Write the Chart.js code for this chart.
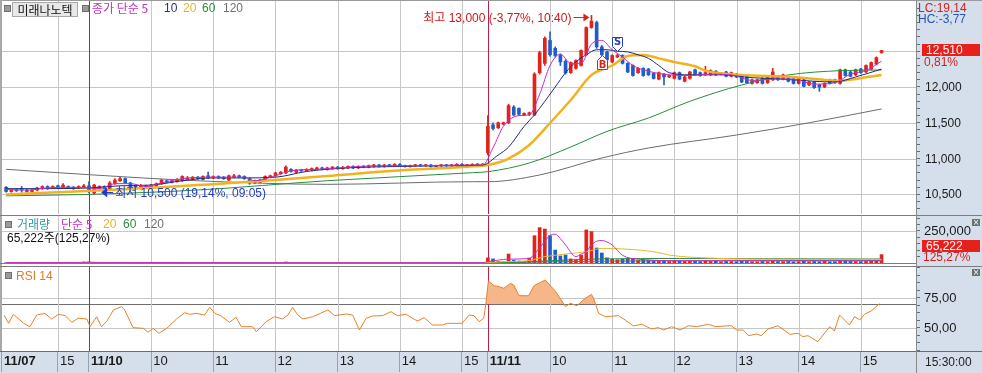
<!DOCTYPE html>
<html><head><meta charset="utf-8">
<script src="https://cdn.jsdelivr.net/npm/chart.js@4.4.0/dist/chart.umd.min.js"></script>
<style>
html,body{margin:0;padding:0;background:#fff;}
#wrap{position:relative;width:982px;height:373px;overflow:hidden;background:#fff;}
canvas{position:absolute;left:0;}
.t{position:absolute;white-space:nowrap;font-size:12px;line-height:14px;font-family:"Liberation Sans Narrow","Liberation Sans","Noto Sans CJK KR",sans-serif;}
.k{font-family:"Noto Sans CJK KR",sans-serif;}
.ln{position:absolute;}
.ic{position:absolute;width:5px;height:5px;background:#9a9a9a;border:1px solid #707070;}
.xb{position:absolute;width:8px;height:7px;background:#6f6f6f;color:#fff;font:8px/7px "DejaVu Sans",sans-serif;text-align:center;}
</style></head><body>
<div id="wrap">
  <div class="ln" style="left:916px;top:0;width:66px;height:373px;background:#d5dfeb"></div>
  <div class="ln" style="left:0;top:352px;width:982px;height:21px;background:#d5dfeb"></div>
  <canvas id="cP" width="982" height="213" style="top:1px"></canvas>
  <canvas id="cV" width="982" height="47" style="top:216px"></canvas>
  <canvas id="cR" width="982" height="106" style="top:267px"></canvas>
  <div class="ln" style="left:0;top:0;width:982px;height:1px;background:#9a9a9a"></div>
  <div class="ln" style="left:0;top:0;width:2px;height:352px;background:#a8a8a8"></div>
  <div class="ln" style="left:0;top:215px;width:982px;height:1px;background:#7c7c7c"></div>
  <div class="ln" style="left:0;top:263px;width:916px;height:1px;background:#7c7c7c"></div>
  <div class="ln" style="left:0;top:266px;width:982px;height:1px;background:#7c7c7c"></div>
  <div class="ln" style="left:0;top:351px;width:982px;height:1px;background:#6c6c6c"></div>
  <div class="ln" style="left:916px;top:0;width:1px;height:373px;background:#8a8a8a"></div>
  <div class="ic" style="left:4px;top:5px"></div>
  <div class="t k" style="left:12px;top:2px;width:64px;height:13px;background:#e8e8e8;border:1px solid #a8a8a8;line-height:13px;color:#111;text-align:center">미래나노텍</div>
  <div class="ic" style="left:82px;top:5px"></div>
  <div class="t k" style="left:92px;top:1px;color:#c42fc4">종가 단순 5</div>
  <div class="t" style="left:164px;top:1px;color:#27307f">10</div>
  <div class="t" style="left:183px;top:1px;color:#e6b22a">20</div>
  <div class="t" style="left:202px;top:1px;color:#2f8c3f">60</div>
  <div class="t" style="left:223px;top:1px;color:#707070">120</div>
  <div class="ic" style="left:5px;top:221px"></div>
  <div class="t k" style="left:17px;top:217px;color:#2f9a9a">거래량</div>
  <div class="t k" style="left:61px;top:217px;color:#c42fc4">단순 5</div>
  <div class="t" style="left:103px;top:217px;color:#e6b22a">20</div>
  <div class="t" style="left:123px;top:217px;color:#2f8c3f">60</div>
  <div class="t" style="left:144px;top:217px;color:#707070">120</div>
  <div class="t" style="left:7px;top:230px;color:#111">65,222<span class="k">주</span>(125,27%)</div>
  <div class="ic" style="left:5px;top:272px"></div>
  <div class="t" style="left:16px;top:269px;color:#e07b2a">RSI 14</div>
  <div class="t" style="left:918px;top:1px;color:#d42020">LC:19,14</div>
  <div class="t" style="left:918px;top:12px;color:#2a55b5">HC:-3,77</div>
  <div id="pbox" class="t" style="left:922px;width:58px;height:12px;line-height:12px;background:#e8201c;color:#fff;padding-left:4px;box-sizing:border-box">12,510</div>
  <div id="ppct" class="t" style="left:924px;color:#d42020">0,81%</div>
  <div class="t" style="left:922px;top:240px;width:58px;height:12px;line-height:12px;background:#e8201c;color:#fff;padding-left:4px;box-sizing:border-box">65,222</div>
  <div class="t" style="left:923px;top:250px;color:#d42020">125,27%</div>
  <div class="t" style="left:925px;top:355px;color:#222">15:30:00</div>
  <div class="xb" style="left:972px;top:219px">×</div>
  <div class="xb" style="left:972px;top:269px">×</div>
  <div id="hiTxt" class="t" style="color:#d01818"><span class="k">최고</span> 13,000 (-3,77%, 10:40)</div>
  <div id="loTxt" class="t" style="color:#1f3fbf"><span class="k">최저</span> 10,500 (19,14%, 09:05)</div>
</div>
<script>
// ---------------- DATA ----------------
// bar index: 0-15 = 11/07 (14:10~15:30), 16-92 = 11/10, 93-169 = 11/11 (5-minute bars)
const open = [10600,10540,10570,10580,10560,10540,10560,10580,10610,10590,10620,10600,10610,10600,10590,10600,
10620,10520,10590,10610,10580,10650,10690,10720,10660,10620,10600,10620,10600,10620,10650,10690,10670,10680,10690,10710,10720,10740,10710,10760,10730,10750,10740,10700,10740,10760,10750,10720,10660,10670,10700,10740,10760,10790,10800,10850,10810,10840,10830,10840,10850,10870,10850,10860,10880,10860,10870,10890,10870,10890,10880,10890,10910,10890,10910,10900,10920,10900,10890,10900,10910,10900,10910,10890,10900,10910,10900,10900,10920,10900,10900,10920,10910,
11080,11470,11430,11480,11500,11720,11700,11610,11620,11610,12200,12330,12650,12540,12440,12360,12200,12260,12300,12450,12830,12900,12560,12490,12350,12420,12440,12330,12300,12200,12260,12250,12190,12110,12180,12140,12120,12200,12080,12120,12240,12200,12170,12170,12220,12180,12210,12150,12180,12150,12140,12050,12060,12120,12060,12100,12150,12110,12140,12110,12050,12100,12030,12070,12030,12000,12100,12100,12050,12240,12210,12170,12250,12210,12250,12320,12480];
const high = [10610,10570,10580,10610,10570,10570,10600,10620,10620,10620,10630,10650,10620,10610,10620,10640,
10680,10640,10620,10620,10680,10720,10740,10730,10670,10640,10640,10630,10640,10660,10710,10700,10700,10720,10760,10750,10750,10750,10760,10810,10760,10760,10750,10770,10780,10770,10760,10730,10700,10710,10760,10770,10810,10820,10900,10860,10850,10850,10860,10870,10880,10880,10880,10890,10890,10890,10900,10900,10900,10900,10910,10920,10920,10920,10920,10930,10930,10910,10910,10920,10920,10920,10920,10910,10920,10920,10920,10930,10930,10920,10930,10930,10930,
11600,11500,11510,11510,11760,11740,11710,11640,11650,12200,12500,12700,12770,12560,12460,12380,12350,12380,12520,12840,13000,12920,12580,12500,12450,12460,12450,12340,12310,12270,12270,12260,12200,12210,12190,12170,12210,12210,12150,12220,12250,12210,12290,12240,12230,12200,12220,12210,12190,12160,12150,12110,12110,12130,12160,12260,12160,12180,12150,12120,12130,12110,12080,12080,12040,12060,12110,12110,12250,12250,12220,12250,12260,12310,12350,12420,12510];
const low = [10530,10530,10540,10530,10530,10530,10550,10570,10570,10580,10590,10590,10580,10570,10580,10590,
10520,10500,10580,10560,10570,10640,10680,10650,10590,10580,10590,10590,10590,10610,10640,10660,10660,10670,10680,10700,10710,10710,10700,10720,10720,10720,10710,10690,10730,10730,10710,10640,10650,10660,10690,10730,10750,10780,10790,10810,10800,10820,10820,10830,10840,10840,10840,10850,10850,10850,10860,10860,10860,10870,10870,10880,10880,10880,10890,10890,10890,10880,10880,10890,10890,10890,10880,10880,10890,10890,10890,10890,10890,10890,10890,10900,10900,
11050,11400,11420,11470,11490,11600,11600,11600,11600,11600,12180,12300,12430,12420,12300,12180,12190,12250,12290,12440,12820,12540,12440,12370,12340,12410,12320,12200,12150,12190,12150,12160,12110,12100,12030,12130,12110,12100,12070,12110,12160,12150,12160,12160,12160,12170,12140,12140,12130,12060,12050,12040,12050,12040,12050,12090,12090,12100,12070,12040,12040,12000,12020,11980,11940,11990,12040,12050,12040,12150,12140,12160,12190,12200,12240,12310,12470];
const close = [10540,10560,10550,10560,10540,10560,10590,10610,10580,10610,10600,10630,10590,10580,10610,10620,
10540,10630,10610,10570,10660,10700,10720,10660,10600,10590,10620,10600,10630,10650,10700,10670,10690,10710,10750,10730,10740,10720,10750,10730,10750,10730,10720,10760,10760,10740,10720,10660,10680,10700,10750,10760,10800,10810,10880,10820,10840,10830,10850,10860,10870,10850,10870,10880,10860,10880,10890,10870,10890,10880,10900,10910,10890,10910,10900,10920,10900,10890,10900,10910,10900,10910,10890,10900,10910,10900,10910,10920,10900,10910,10920,10910,10920,
11450,11420,11500,11500,11740,11610,11620,11630,11640,12180,12480,12680,12450,12440,12350,12200,12340,12370,12510,12830,12920,12560,12450,12380,12440,12440,12330,12210,12160,12260,12160,12170,12120,12200,12140,12160,12200,12110,12140,12210,12170,12160,12200,12230,12170,12190,12150,12200,12140,12070,12060,12100,12100,12050,12150,12210,12100,12170,12080,12050,12120,12010,12070,11990,12000,12050,12050,12060,12240,12160,12150,12240,12200,12300,12340,12410,12510];
const volume = [2000,1500,1200,2500,1800,1500,2200,3000,1600,2000,2500,3000,1800,1500,2500,8000,
9000,6000,3000,2000,4000,3500,2500,2000,1800,1500,1200,1500,1300,1600,2500,1500,1400,1800,2500,1500,1300,1200,2000,3000,6000,1500,1200,2500,2000,1200,1300,3000,1500,1200,2200,1800,2500,2000,8000,2500,1600,1200,1500,1300,1800,1200,1500,1400,1300,1200,1500,1100,1300,1200,1600,1400,1200,1500,1100,1300,1200,1000,1100,1300,1000,1200,1100,1000,1200,1000,1100,1300,1400,1200,1100,1300,1500,
40000,32000,12000,9000,70000,22000,15000,9000,39000,213000,276000,265000,213000,101000,55000,62000,32000,22000,62000,258000,245000,117000,78000,40000,30000,25000,30000,35000,30000,20000,25000,22000,18000,15000,20000,12000,16000,18000,12000,15000,14000,11000,16000,12000,14000,10000,12000,11000,10000,14000,12000,10000,9000,12000,10000,15000,11000,10000,12000,9000,10000,14000,9000,12000,10000,15000,9000,10000,20000,14000,12000,11000,10000,12000,14000,20000,65222];
const ma5Idx  = [0,4,8,12,16,18,21,24,27,30,34,38,42,46,48,52,55,60,66,72,80,88,92,94,96,99,101,103,105,107,109,111,113,115,117,119,121,124,128,132,136,140,144,148,152,156,160,163,166,169];
const ma5Val  = [10570,10560,10590,10600,10590,10580,10650,10650,10610,10660,10720,10740,10740,10740,10690,10760,10830,10850,10880,10900,10900,10910,10910,11150,11450,11600,11610,11900,12300,12460,12330,12330,12600,12650,12520,12420,12300,12220,12170,12160,12180,12170,12090,12110,12110,12040,12060,12180,12230,12360];
const ma10Idx = [0,8,16,22,28,34,40,46,52,58,66,76,86,92,95,97,100,102,104,106,108,110,112,114,116,118,120,122,124,126,128,132,138,144,150,156,160,164,169];
const ma10Val = [10580,10580,10590,10620,10630,10690,10730,10730,10740,10820,10870,10890,10900,10910,11050,11160,11450,11610,11800,12000,12200,12350,12450,12520,12520,12500,12490,12450,12400,12300,12200,12170,12170,12130,12110,12080,12070,12140,12250];
const ma20Idx = [0,10,20,30,37,50,62,75,89,93,97,101,105,109,113,117,120,123,126,129,133,135,142,151,158,161,164,169];
const ma20Val = [10500,10530,10560,10600,10630,10690,10757,10830,10887,10910,11000,11190,11497,11818,12168,12300,12433,12447,12400,12349,12290,12228,12168,12144,12098,12088,12112,12168];
const ma60Idx = [0,16,37,62,90,93,101,109,116,124,132,142,151,161,169];
const ma60Val = [10480,10500,10561,10691,10803,10817,10938,11162,11380,11567,11800,12028,12168,12228,12237];
const ma120Idx = [0,16,37,62,90,93,103,115,124,141,155,169];
const ma120Val = [10850,10775,10690,10640,10677,10677,10771,11008,11148,11329,11500,11693];
const vma5Idx  = [0,16,40,70,92,93,97,101,102,103,104,105,106,107,108,110,111,112,113,114,115,117,119,122,130,169];
const vma5Val  = [3000,5000,3000,2500,3000,10000,30000,35000,70000,120000,170000,215000,225000,190000,140000,50000,70000,90000,140000,170000,175000,140000,60000,30000,18000,16000];
const vma20Idx = [0,92,96,101,104,108,112,115,121,126,128,135,145,169];
const vma20Val = [3000,3500,10000,20000,49000,70000,88000,114000,105000,81000,62000,40000,30000,28000];
const vma60Idx = [0,92,100,105,115,130,150,169];
const vma60Val = [2500,3000,8000,18000,32000,35000,33000,31000];
const vma120Idx = [0,92,105,120,169];
const vma120Val = [2500,2500,9000,16000,20000];
const rsiIdx = [-0.4,0.5,1.4,3.4,4.6,5.9,7.5,8.8,10.1,11.4,12.7,13.9,15.6,16.2,17.5,18.4,19.4,20.7,22.3,22.9,24.5,26.5,27.4,28.4,29.5,31,32.9,34.5,35.4,36.7,38.3,39.3,40.3,41.5,43.1,44.4,45.4,47.6,48.3,50.2,51.8,53.4,54.4,55.3,56.3,57.3,59.2,62.1,63.4,65.6,66.9,68.2,69.5,70.7,72.7,74.3,75.5,77.2,79.4,80.7,82.3,84.2,85.2,88,89.4,90.3,91.3,92.2,92.6,93.1,94.2,95.2,96.1,97.4,98,99,100.9,101.9,104.1,106.1,108,108.9,110.2,111.8,113,113.4,114.4,115.7,118.2,119.5,121.1,122.7,124.6,125.9,126.9,128.5,130.1,131.7,133.3,135.6,136.9,138.8,140,141,142.3,143.3,144.9,145.8,147.1,149,151.3,152.9,153.8,154.8,156.7,159,159.9,160.9,162.8,163.8,164.8,165.7,167,168.6];
const rsiVal = [60.8,53.9,61.4,53.9,51.1,60.8,62.2,57.5,61.4,60.3,54.7,58.1,57.5,51.1,59.4,51.1,55.3,65,67.8,65,50.3,49.7,46.4,49.7,45.6,49.7,57.5,62.8,61.4,62.2,60.8,67.2,62.2,60,54.7,58.9,51.1,51.1,46.9,55.3,59.4,57.5,60.8,67.2,60.8,57.5,59.4,65,60.3,61.7,60.8,48.3,58.1,60,60.3,63.6,60.3,61.4,55.8,58.6,52.5,52.5,53.9,53.9,60.8,60.3,55.3,58.1,69.7,89.2,85.3,84.4,83.1,87.2,85.8,76.9,76.9,85.3,90,80.3,67.8,70.6,68.6,74.7,78,74.7,62.2,59.4,60.3,56.7,51.7,53.1,49.2,50.3,48.3,51.1,48.3,51.9,51.1,53.1,51.1,51.7,51.9,48.3,48.3,43.6,45,43.6,49.2,51.9,44.7,45.6,42.8,43.6,38.6,51.1,47.5,60.8,52.5,59.4,56.7,61.4,64.2,70.3];
const tickPos    = [-0.8,10,16,28,40,52,64,76,88,93,105,117,129,141,153,165];
const tickLabels = ['11/07','15','11/10','10','11','12','13','14','15','11/11','10','11','12','13','14','15'];
const dayTicks   = [16,93];
const priceLabels = [10500,11000,11500,12000];
const priceGrid   = [10500,11000,11500,12000,12500];
const volGrid = [250000];
const rsiLabels = [50,75];
const rsiRef = 70;
const hiIdx = 113, hiPrice = 13000, loIdx = 17, loPrice = 10500;
const sellIdx = 118, buyIdx = 115;
const lastPrice = 12510;

// ---------------- STYLE ----------------
const RED = '#e2231c', BLUE = '#1f5ccc';
const C5 = '#c42fc4', C10 = '#1e2a7c', C20 = '#f0b21e', C60 = '#2a8c3c', C120 = '#6c6c6c';
const X_MIN = -1.18, X_MAX = 175.65;
const NUMF = '"Liberation Sans Narrow","Liberation Sans",sans-serif';
const GRID = '#c6c6c6', DAYC = '#b8204a';
const fmt = v => v.toLocaleString('en-US');
const isUp = i => close[i] >= open[i];
const NONE = 'rgba(0,0,0,0)';

const gridLines = {
  id: 'gridLines',
  beforeDatasetsDraw(chart, args, opts) {
    const { ctx, chartArea: a, scales: { x, y } } = chart;
    ctx.save(); ctx.lineWidth = 1;
    (opts.h || []).forEach(([v, c]) => {
      const py = Math.round(y.getPixelForValue(v)) + 0.5;
      ctx.strokeStyle = c; ctx.beginPath(); ctx.moveTo(a.left, py); ctx.lineTo(a.right, py); ctx.stroke();
    });
    tickPos.forEach(v => {
      if (v < 0) return;
      const px = Math.round(x.getPixelForValue(v)) + 0.5;
      ctx.strokeStyle = dayTicks.includes(v) ? DAYC : GRID;
      ctx.beginPath(); ctx.moveTo(px, a.top); ctx.lineTo(px, a.bottom); ctx.stroke();
    });
    ctx.restore();
  }
};

function xAxis(labels) {
  return {
    type: 'linear', min: X_MIN, max: X_MAX, offset: false, display: true,
    afterBuildTicks: s => { s.ticks = tickPos.map(v => ({ value: v })); },
    afterFit: s => { s.height = labels ? 22 : 0; s.paddingLeft = 0; s.paddingRight = 0; },
    ticks: {
      display: labels, autoSkip: false, maxRotation: 0, minRotation: 0, align: 'start',
      padding: -18, labelOffset: 2, color: '#1a1a1a',
      callback: (v, i) => tickLabels[i],
      font: ctx => ({ family: NUMF, size: 13, weight: (tickLabels[ctx.index] || '').includes('/') ? 'bold' : 'normal' })
    },
    grid: { display: labels, offset: false, drawOnChartArea: false, drawTicks: labels, tickLength: 21, color: '#97a3b3', tickColor: '#97a3b3' },
    border: { display: false }
  };
}
function yAxis(min, max, tickVals, labelVals, labelFmt) {
  return {
    type: 'linear', position: 'right', min, max,
    afterBuildTicks: s => { s.ticks = tickVals.map(v => ({ value: v })); },
    afterFit: s => { s.width = 66; s.paddingTop = 0; s.paddingBottom = 0; },
    ticks: { autoSkip: false, padding: 4, color: '#1a1a1a', font: { family: NUMF, size: 13 },
      callback: v => labelVals.includes(v) ? labelFmt(v) : '' },
    grid: { offset: false, drawOnChartArea: false, drawTicks: true, tickLength: 4, color: '#5e6e82', tickColor: '#5e6e82' },
    border: { display: true, color: '#8a8a8a' }
  };
}
function opts(h) {
  return { responsive: false, animation: false, devicePixelRatio: 1, events: [],
    layout: { padding: 0, autoPadding: false },
    plugins: { legend: { display: false }, tooltip: { enabled: false }, gridLines: { h } } };
}
function lineDs(xs, ys, color, w, order) {
  return { type: 'line', data: xs.map((x, k) => ({ x, y: ys[k] })), borderColor: color, borderWidth: w,
    pointRadius: 0, cubicInterpolationMode: 'monotone', fill: false, order };
}
const idx = open.map((_, i) => i);

const marks = {
  id: 'marks',
  afterDatasetsDraw(chart) {
    const { ctx, scales: { x, y } } = chart;
    ctx.save();
    const hx = x.getPixelForValue(hiIdx), hy = Math.round(y.getPixelForValue(hiPrice)) + 2.5;
    ctx.strokeStyle = ctx.fillStyle = '#e0201c'; ctx.lineWidth = 1;
    ctx.beginPath(); ctx.moveTo(hx - 18, hy); ctx.lineTo(hx - 6, hy); ctx.stroke();
    ctx.beginPath(); ctx.moveTo(hx - 2, hy); ctx.lineTo(hx - 8, hy - 4); ctx.lineTo(hx - 8, hy + 4); ctx.closePath(); ctx.fill();
    const lx = x.getPixelForValue(loIdx) + 7, ly = Math.round(y.getPixelForValue(loPrice)) - 1.5;
    ctx.strokeStyle = ctx.fillStyle = '#1f3fbf';
    ctx.beginPath(); ctx.moveTo(lx + 4, ly); ctx.lineTo(lx + 12, ly); ctx.stroke();
    ctx.beginPath(); ctx.moveTo(lx, ly); ctx.lineTo(lx + 6, ly - 5); ctx.lineTo(lx + 6, ly + 5); ctx.closePath(); ctx.fill();
    const sx = Math.round(x.getPixelForValue(sellIdx)) + 0.5, sy = Math.round(y.getPixelForValue(high[sellIdx])) - 2.5;
    ctx.beginPath(); ctx.moveTo(sx, sy); ctx.lineTo(sx - 5, sy - 5); ctx.lineTo(sx - 5, sy - 14); ctx.lineTo(sx + 5, sy - 14); ctx.lineTo(sx + 5, sy - 5); ctx.closePath();
    ctx.fillStyle = '#fff'; ctx.fill(); ctx.strokeStyle = '#2a3fb0'; ctx.stroke();
    ctx.fillStyle = '#2a3fb0'; ctx.font = 'bold 10px "DejaVu Sans",sans-serif'; ctx.textAlign = 'center'; ctx.textBaseline = 'middle';
    ctx.fillText('S', sx, sy - 9);
    const bx = Math.round(x.getPixelForValue(buyIdx)) + 0.5, by = Math.round(y.getPixelForValue(low[buyIdx])) + 0.5;
    ctx.beginPath(); ctx.moveTo(bx, by); ctx.lineTo(bx - 5, by + 5); ctx.lineTo(bx - 5, by + 14); ctx.lineTo(bx + 5, by + 14); ctx.lineTo(bx + 5, by + 5); ctx.closePath();
    ctx.fillStyle = '#fff'; ctx.fill(); ctx.strokeStyle = '#e0201c'; ctx.stroke();
    ctx.fillStyle = '#e0201c'; ctx.fillText('B', bx, by + 9.5);
    ctx.restore();
  }
};

const pTicks = []; for (let v = 10300; v <= 13100; v += 100) pTicks.push(v);
const chartP = new Chart(document.getElementById('cP'), {
  type: 'bar',
  data: { datasets: [
    lineDs(ma5Idx, ma5Val, C5, 1, 1),
    lineDs(ma10Idx, ma10Val, C10, 1, 2),
    lineDs(ma20Idx, ma20Val, C20, 2.5, 3),
    lineDs(ma60Idx, ma60Val, C60, 1, 4),
    lineDs(ma120Idx, ma120Val, C120, 1, 5),
    { type: 'bar', data: idx.map(i => ({ x: i, y: [open[i], close[i]] })), barThickness: 3, grouped: false, minBarLength: 1,
      backgroundColor: c => isUp(c.dataIndex) ? RED : BLUE, borderWidth: 0, order: 9 },
    { type: 'bar', data: idx.map(i => ({ x: i, y: [low[i], high[i]] })), barThickness: 1, grouped: false, minBarLength: 1,
      backgroundColor: c => isUp(c.dataIndex) ? RED : BLUE, borderWidth: 0, order: 10 }
  ]},
  options: Object.assign(opts(priceGrid.map(v => [v, GRID])), { scales: {
    x: xAxis(false),
    y: yAxis(10226, 13201, pTicks, [], fmt)
  }}),
  plugins: [gridLines, marks]
});
(function(){
  const wrap = document.getElementById('wrap');
  const ys = chartP.scales.y, top = 1;
  priceLabels.forEach(v => {
    const d = document.createElement('div'); d.className = 't'; d.style.left = '925px';
    d.style.top = (top + ys.getPixelForValue(v) - 7) + 'px'; d.style.color = '#1a1a1a'; d.textContent = fmt(v);
    wrap.appendChild(d);
  });
  const py = top + ys.getPixelForValue(lastPrice);
  document.getElementById('pbox').style.top = (py - 6) + 'px';
  document.getElementById('ppct').style.top = (py + 5) + 'px';
  const hx = chartP.scales.x.getPixelForValue(hiIdx), hy = top + ys.getPixelForValue(hiPrice);
  const ht = document.getElementById('hiTxt'); ht.style.left = (hx - 20) + 'px'; ht.style.top = (hy - 5) + 'px'; ht.style.transform = 'translateX(-100%)';
  const lx = chartP.scales.x.getPixelForValue(loIdx), ly = top + ys.getPixelForValue(loPrice);
  const lt = document.getElementById('loTxt'); lt.style.left = (lx + 21) + 'px'; lt.style.top = (ly - 9) + 'px';
})();

const vTicks = []; for (let v = 50000; v <= 350000; v += 50000) vTicks.push(v);
new Chart(document.getElementById('cV'), {
  type: 'bar',
  data: { datasets: [
    lineDs(vma5Idx, vma5Val, C5, 1, 1),
    lineDs(vma20Idx, vma20Val, '#e8b830', 1, 2),
    lineDs(vma60Idx, vma60Val, C60, 1, 3),
    lineDs(vma120Idx, vma120Val, C120, 1, 4),
    { type: 'bar', data: idx.map(i => ({ x: i, y: volume[i] })), barThickness: 3, grouped: false,
      backgroundColor: c => isUp(c.dataIndex) ? RED : BLUE, borderWidth: 0, order: 9 }
  ]},
  options: Object.assign(opts(volGrid.map(v => [v, GRID])), { scales: {
    x: xAxis(false),
    y: yAxis(0, 366600, vTicks, volGrid, fmt)
  }}),
  plugins: [gridLines]
});

const rTicks = [31.25,37.5,43.75,50,56.25,62.5,68.75,75,81.25,87.5,93.75,100];
new Chart(document.getElementById('cR'), {
  type: 'line',
  data: { datasets: [
    { data: rsiIdx.map((x, k) => ({ x, y: rsiVal[k] })), borderColor: '#e8822a', borderWidth: 1, pointRadius: 0, tension: 0,
      fill: { value: rsiRef, above: '#f6b68a', below: NONE } }
  ]},
  options: Object.assign(opts([[50, GRID], [75, GRID], [rsiRef, '#6e6e6e']]), { scales: {
    x: xAxis(true),
    y: yAxis(30.83, 100.83, rTicks, rsiLabels, v => v.toFixed(2).replace('.', ','))
  }}),
  plugins: [gridLines]
});
</script>
</body></html>
